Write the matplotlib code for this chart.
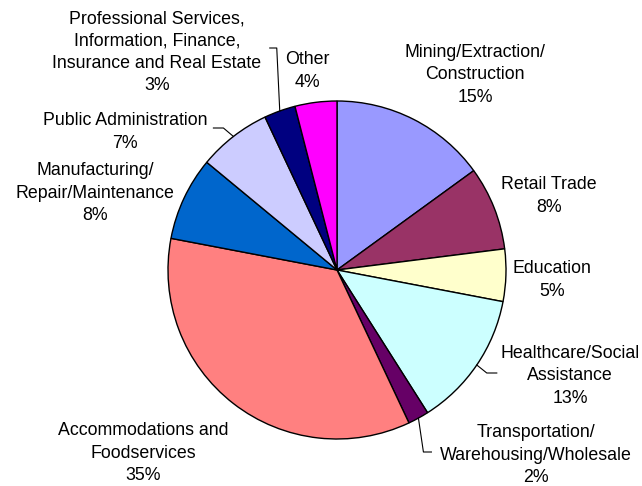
import numpy as np
import matplotlib.pyplot as plt

plt.rcParams['font.family'] = ['Liberation Sans', 'DejaVu Sans']

sectors = ['Mining/Extraction/\nConstruction', 'Retail Trade', 'Education',
           'Healthcare/Social\nAssistance', 'Transportation/\nWarehousing/Wholesale',
           'Accommodations and\nFoodservices', 'Manufacturing/\nRepair/Maintenance',
           'Public Administration',
           'Professional Services,\nInformation, Finance,\nInsurance and Real Estate',
           'Other']
shares = [15, 8, 5, 13, 2, 35, 8, 7, 3, 4]
colors = ['#9999FF', '#993366', '#FFFFCC', '#CCFFFF', '#660066',
          '#FF8080', '#0066CC', '#CCCCFF', '#000080', '#FF00FF']

# label centres, in pixels from top-left
label_pos = [(475, 75), (549, 196), (552, 280), (570, 376), (536, 455),
             (143, 453), (95, 193), (125, 132), (157, 52), (307, 71)]

W, H = 642, 486
cx, cy, r = 337, 270, 169

fig = plt.figure(figsize=(W / 100, H / 100), dpi=100)
ax = fig.add_axes([0, 0, 1, 1])

wedges, _ = ax.pie(shares, colors=colors, startangle=90, counterclock=False,
                   center=(cx, H - cy), radius=r,
                   wedgeprops=dict(edgecolor='black', linewidth=1))
# pie() sets its own limits, so override them afterwards
ax.set_xlim(0, W)
ax.set_ylim(0, H)
ax.set_aspect('equal')
ax.axis('off')

for name, val, (lx, ly) in zip(sectors, shares, label_pos):
    ax.text(lx, H - ly, f'{name}\n{val}%', ha='center', va='center',
            fontsize=12.8, linespacing=1.4, color='black')


def edge_point(w):
    a = np.deg2rad((w.theta1 + w.theta2) / 2)
    return cx + r * np.cos(a), H - cy + r * np.sin(a)


# leader lines for the labels that sit away from their slice
ex, ey = edge_point(wedges[8])
ax.plot([ex, ex - 3, ex - 10], [ey, H - 48, H - 48], color='black', lw=0.8)
ex, ey = edge_point(wedges[7])
ax.plot([ex, ex - 10, ex - 20], [ey, H - 128, H - 128], color='black', lw=0.8)
ex, ey = edge_point(wedges[3])
ax.plot([ex, ex + 10, ex + 20], [ey, H - 373, H - 373], color='black', lw=0.8)
ex, ey = edge_point(wedges[4])
ax.plot([ex, ex + 5, ex + 13], [ey, H - 452, H - 452], color='black', lw=0.8)

fig.savefig('out.png', dpi=100)
